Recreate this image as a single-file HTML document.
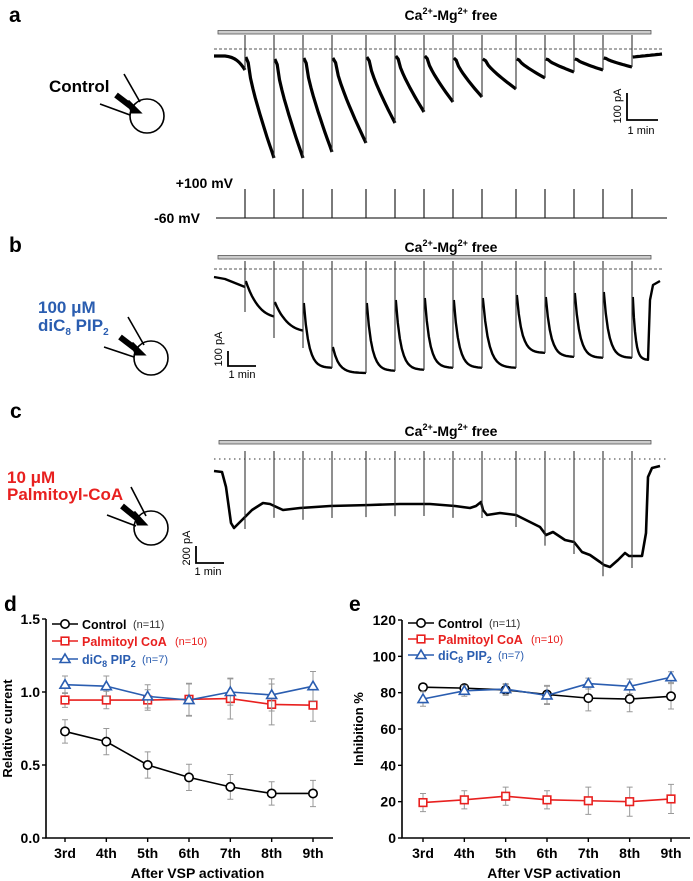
<!DOCTYPE html>
<html><head><meta charset="utf-8"><style>
html,body{margin:0;padding:0;background:#fff;}
svg{display:block;font-family:"Liberation Sans",Arial,sans-serif;}
</style></head><body>
<svg id="fig" width="693" height="881" viewBox="0 0 693 881" xmlns="http://www.w3.org/2000/svg">
<g id="static">
  <!-- panel a -->
  <text x="9" y="22" font-size="21" font-weight="bold">a</text>
  <text x="451" y="20" font-size="14" font-weight="bold" text-anchor="middle">Ca<tspan font-size="9" dy="-6">2+</tspan><tspan dy="6">-Mg</tspan><tspan font-size="9" dy="-6">2+</tspan><tspan dy="6"> free</tspan></text>
  <rect x="218" y="30.5" width="433" height="3.5" fill="#ccc" stroke="#555" stroke-width="0.8"/>
  <line x1="214" y1="49" x2="662" y2="49" stroke="#555" stroke-dasharray="3,2"/>
  <text x="49" y="92" font-size="17" font-weight="bold">Control</text>
  <g fill="none" stroke="#000" stroke-width="1.6">
    <circle cx="147" cy="116" r="17"/>
    <line x1="124" y1="74" x2="140" y2="102"/><line x1="100" y1="104" x2="130" y2="115"/>
    <path d="M116 95 L133 108" stroke-width="6"/><path d="M128 101 L139 112 L132 112 Z" fill="#000" stroke-width="3"/>
  </g>
  <g>
    <path d="M627 93 V120 H658" fill="none" stroke="#000" stroke-width="1.8"/>
    <text x="621" y="106" font-size="11" text-anchor="middle" transform="rotate(-90 621 106)">100 pA</text>
    <text x="641" y="134" font-size="11" text-anchor="middle">1 min</text>
  </g>
  <text x="233" y="188" font-size="14" font-weight="bold" text-anchor="end">+100 mV</text>
  <text x="200" y="223" font-size="14" font-weight="bold" text-anchor="end">-60 mV</text>
  <line x1="216" y1="218" x2="667" y2="218" stroke="#333" stroke-width="1.2"/>
  <!-- panel b -->
  <text x="9" y="252" font-size="21" font-weight="bold">b</text>
  <text x="451" y="252" font-size="14" font-weight="bold" text-anchor="middle">Ca<tspan font-size="9" dy="-6">2+</tspan><tspan dy="6">-Mg</tspan><tspan font-size="9" dy="-6">2+</tspan><tspan dy="6"> free</tspan></text>
  <rect x="218" y="255.5" width="433" height="3.5" fill="#ccc" stroke="#555" stroke-width="0.8"/>
  <line x1="214" y1="269" x2="662" y2="269" stroke="#555" stroke-dasharray="3,2"/>
  <text x="38" y="313" font-size="17" font-weight="bold" fill="#2a5db0">100 μM</text>
  <text x="38" y="331" font-size="17" font-weight="bold" fill="#2a5db0">diC<tspan font-size="10" dy="4">8</tspan><tspan dy="-4"> PIP</tspan><tspan font-size="10" dy="4">2</tspan></text>
  <g fill="none" stroke="#000" stroke-width="1.6">
    <circle cx="151" cy="358" r="17"/>
    <line x1="128" y1="317" x2="144" y2="345"/><line x1="104" y1="347" x2="134" y2="357"/>
    <path d="M120 337 L137 350" stroke-width="6"/><path d="M132 343 L143 354 L136 354 Z" fill="#000" stroke-width="3"/>
  </g>
  <g>
    <path d="M228 351 V366 H256" fill="none" stroke="#000" stroke-width="1.8"/>
    <text x="222" y="349" font-size="11" text-anchor="middle" transform="rotate(-90 222 349)">100 pA</text>
    <text x="242" y="378" font-size="11" text-anchor="middle">1 min</text>
  </g>
  <!-- panel c -->
  <text x="10" y="418" font-size="21" font-weight="bold">c</text>
  <text x="451" y="436" font-size="14" font-weight="bold" text-anchor="middle">Ca<tspan font-size="9" dy="-6">2+</tspan><tspan dy="6">-Mg</tspan><tspan font-size="9" dy="-6">2+</tspan><tspan dy="6"> free</tspan></text>
  <rect x="219" y="440.5" width="432" height="3.5" fill="#ccc" stroke="#555" stroke-width="0.8"/>
  <line x1="214" y1="459" x2="668" y2="459" stroke="#333" stroke-dasharray="1.5,3.5"/>
  <text x="7" y="483" font-size="17" font-weight="bold" fill="#e8201f">10 μM</text>
  <text x="7" y="500" font-size="17" font-weight="bold" fill="#e8201f">Palmitoyl-CoA</text>
  <g fill="none" stroke="#000" stroke-width="1.6">
    <circle cx="151" cy="528" r="17"/>
    <line x1="131" y1="487" x2="146" y2="516"/><line x1="107" y1="515" x2="136" y2="526"/>
    <path d="M122 506 L139 520" stroke-width="6"/><path d="M134 512 L145 524 L138 524 Z" fill="#000" stroke-width="3"/>
  </g>
  <g>
    <path d="M196 546 V563 H224" fill="none" stroke="#000" stroke-width="1.8"/>
    <text x="190" y="548" font-size="11" text-anchor="middle" transform="rotate(-90 190 548)">200 pA</text>
    <text x="208" y="575" font-size="11" text-anchor="middle">1 min</text>
  </g>
</g>
<g id="traces"></g>
<g id="chartD"></g>
<g id="chartE"></g>
</svg>
<script>
// ---- chart data ----
const categories = ["3rd","4th","5th","6th","7th","8th","9th"];
const dControl = [0.73,0.66,0.50,0.415,0.35,0.305,0.305];
const dControlErr = [0.08,0.09,0.09,0.09,0.085,0.08,0.09];
const dPalm = [0.945,0.945,0.945,0.95,0.955,0.915,0.91];
const dPalmErr = [0.05,0.06,0.07,0.11,0.14,0.14,0.11];
const dPip = [1.05,1.04,0.97,0.945,1.0,0.98,1.04];
const dPipErr = [0.06,0.07,0.08,0.11,0.09,0.11,0.1];
const dTicks = ["0.0","0.5","1.0","1.5"];
const eControl = [83,82.5,81.5,79,77,76.5,78];
const eControlErr = [2,2,3,5,7,7,7];
const ePalm = [19.5,21,23,21,20.5,20,21.5];
const ePalmErr = [5,5,5,5,7.5,8,8];
const ePip = [76.5,81,82,78.5,85,83.5,88.5];
const ePipErr = [4,3,3,5,3,4,3];
const eTicks = ["0","20","40","60","80","100","120"];
// ---- trace data (recording landmarks) ----
const pulseTimes = [245,274,303,332,366,395,424,453,482,516,545,574,603,632];
const aStart = [57,59,58,58,57,56,56,58,59,59,59,59,58,57];
const aMin = [158,158,152,143,123,112,102,97,89,78,72,70,67,62];
const bPeak = [281,302,303,347,303,300,298,300,298,295,297,293,292,297];
const bFloor = [338,348,368,373,371,370,368,368,368,353,357,358,358,360];
const cTraceX = [214,222,226,231,234,240,252,263,270,283,300,330,370,400,430,455,470,476,481,483,487,500,516,530,540,546,553,565,574,582,590,600,604,610,618,625,629,635,642,646,648,652,660];
const cTraceY = [471,472,487,523,528,522,510,503,504,510,508,506,505,504,504,506,508,506,502,510,515,513,515,522,527,535,532,540,542,552,555,562,565,567,560,553,556,556,556,533,477,468,466];

const NS="http://www.w3.org/2000/svg";
function mk(tag,attrs,parent){const e=document.createElementNS(NS,tag);for(const k in attrs)e.setAttribute(k,attrs[k]);parent.appendChild(e);return e;}

// ---- traces ----
const tr=document.getElementById('traces');
// panel a
let d="M214 56 L225 56 C235 57 240 62 245 70";
for(let i=0;i<pulseTimes.length;i++){
  const x0=pulseTimes[i], x1=(i<pulseTimes.length-1?pulseTimes[i+1]:662);
  const y0=aStart[i], y1=(i<pulseTimes.length-1?aMin[i]:aStart[i]-3);
  d+=` M${x0+0.8} ${y0}`;
  for(let k=1;k<=12;k++){const t=k/12;const f=i<13?(t<0.15?t*t*8:0.18+0.82*Math.pow((t-0.15)/0.85,0.85)):t;d+=` L${(x0+0.8+(x1-x0-0.8)*t).toFixed(1)} ${(y0+(y1-y0)*Math.min(f,1)).toFixed(1)}`;}
}
const pa=mk('path',{d:d,fill:'none',stroke:'#000','stroke-width':3.2,'stroke-linejoin':'round'},tr);


pulseTimes.forEach((x,i)=>{
  const l=mk('line',{x1:x,y1:35,x2:x,y2:(aMin[i-1]||70),stroke:'#333','stroke-width':1.1},tr);
  
  
  const p=mk('line',{x1:x,y1:189,x2:x,y2:218,stroke:'#222','stroke-width':1.2},tr);
  
  
});
// panel b
let db="M214 277 L225 279 L235 283 L245 287";
for(let i=0;i<pulseTimes.length;i++){
  const x0=pulseTimes[i], x1=(i<pulseTimes.length-1?pulseTimes[i+1]:648);
  const p=bPeak[i], f=bFloor[i];
  const tau=i<2?0.6:0.18;
  db+=` M${x0+0.8} ${p}`;
  for(let k=1;k<=14;k++){const t=k/14;const y=f+(p-f)*Math.exp(-t/tau)-(i<2?(f-p)*Math.exp(-1/tau)*t:0);db+=` L${(x0+0.8+(x1-x0-0.8)*t).toFixed(1)} ${y.toFixed(1)}`;}
}
db+=" L650 300 L653 285 L660 281";
const pb=mk('path',{d:db,fill:'none',stroke:'#000','stroke-width':2.4,'stroke-linejoin':'round'},tr);


pulseTimes.forEach((x,i)=>{
  const l=mk('line',{x1:x,y1:261,x2:x,y2:(i===0?312:(bFloor[i-1])),stroke:'#333','stroke-width':1.1},tr);
  
  
});
// panel c
let dc="M"+cTraceX.map((x,i)=>x+" "+cTraceY[i]).join(" L");
const pc=mk('path',{d:dc,fill:'none',stroke:'#000','stroke-width':2.6,'stroke-linejoin':'round'},tr);


function cAt(x){for(let i=1;i<cTraceX.length;i++){if(cTraceX[i]>=x){const t=(x-cTraceX[i-1])/(cTraceX[i]-cTraceX[i-1]);return cTraceY[i-1]+t*(cTraceY[i]-cTraceY[i-1]);}}return cTraceY[cTraceY.length-1];}
pulseTimes.forEach(x=>{
  const l=mk('line',{x1:x,y1:451,x2:x,y2:cAt(x)+12,stroke:'#333','stroke-width':1.1},tr);
  
  
});

// ---- summary charts ----
function drawChart(gid,cfg){
  const g=document.getElementById(gid);
  const {x0,x1,yTop,yBot,yMax,ticks,cx0,cx1}=cfg;
  const ys=v=>yBot-(v/yMax)*(yBot-yTop);
  const xs=i=>cx0+i*(cx1-cx0)/(categories.length-1);
  const ax=mk('path',{d:`M${x0} ${yTop} V${yBot} H${x1}`,fill:'none',stroke:'#000','stroke-width':1.6},g);
  
  
  ticks.forEach(t=>{const y=ys(parseFloat(t));
    mk('line',{x1:x0-4,y1:y,x2:x0,y2:y,stroke:'#000','stroke-width':1.4},g);
    const tx=mk('text',{x:x0-6,y:y+5,'font-size':14,'font-weight':'bold','text-anchor':'end'},g);tx.textContent=t;
    
    
  });
  categories.forEach((c,i)=>{const x=xs(i);
    mk('line',{x1:x,y1:yBot,x2:x,y2:yBot+4,stroke:'#000','stroke-width':1.4},g);
    const tx=mk('text',{x:x,y:yBot+20,'font-size':14,'font-weight':'bold','text-anchor':'middle'},g);tx.textContent=c;
    
    
  });
  const xl=mk('text',{x:(x0+x1)/2+8,y:yBot+40,'font-size':14,'font-weight':'bold','text-anchor':'middle'},g);xl.textContent="After VSP activation";
  
  
  const yl=mk('text',{x:cfg.ylx,y:(yTop+yBot)/2,'font-size':13,'font-weight':'bold','text-anchor':'middle',transform:`rotate(-90 ${cfg.ylx} ${(yTop+yBot)/2})`},g);yl.textContent=cfg.ylabel;
  
  
  cfg.series.forEach(s=>{
    const sg=mk('g',{},g);
    
    
    s.vals.forEach((v,i)=>{const x=xs(i);
      mk('path',{d:`M${x} ${ys(v-s.err[i])} V${ys(v+s.err[i])} M${x-3} ${ys(v-s.err[i])} H${x+3} M${x-3} ${ys(v+s.err[i])} H${x+3}`,stroke:'#999','stroke-width':1,fill:'none'},sg);
    });
    mk('polyline',{points:s.vals.map((v,i)=>xs(i)+","+ys(v)).join(" "),fill:'none',stroke:s.color,'stroke-width':1.6},sg);
    s.vals.forEach((v,i)=>{const m=marker(sg,s.shape,xs(i),ys(v),s.color);
      
      });
  });
  cfg.legend.forEach((L,i)=>{
    const y=cfg.ly[i];
    const lg=mk('g',{},g);
    
    
    mk('line',{x1:cfg.lx,y1:y,x2:cfg.lx+26,y2:y,stroke:L.color,'stroke-width':1.4},lg);
    marker(lg,L.shape,cfg.lx+13,y,L.color);
    const t=mk('text',{x:cfg.lx+30,y:y+5,'font-size':12.5,'font-weight':'bold',fill:L.tcolor},lg);t.innerHTML=L.label;
    const n=mk('text',{x:cfg.nx[i],y:y+4,'font-size':11,fill:L.ncolor},lg);n.textContent=L.n;
  });
}
function marker(p,shape,x,y,c){
  if(shape==='circle')return mk('circle',{cx:x,cy:y,r:4.2,fill:'#fff',stroke:c,'stroke-width':1.6},p);
  if(shape==='square')return mk('rect',{x:x-3.8,y:y-3.8,width:7.6,height:7.6,fill:'#fff',stroke:c,'stroke-width':1.6},p);
  return mk('path',{d:`M${x} ${y-5} L${x+5} ${y+3.5} L${x-5} ${y+3.5} Z`,fill:'#fff',stroke:c,'stroke-width':1.6},p);
}
const legendDef=[
 {shape:'circle',color:'#000',tcolor:'#000',ncolor:'#333',label:'Control',n:'(n=11)'},
 {shape:'square',color:'#e8201f',tcolor:'#e8201f',ncolor:'#e8201f',label:'Palmitoyl CoA',n:'(n=10)'},
 {shape:'tri',color:'#2a5db0',tcolor:'#2a5db0',ncolor:'#2a5db0',label:'diC<tspan font-size="9" dy="3">8</tspan><tspan dy="-3"> PIP</tspan><tspan font-size="9" dy="3">2</tspan>',n:'(n=7)'}
];
drawChart('chartD',{x0:46,x1:333,yTop:619,yBot:838,yMax:1.5,ticks:dTicks,cx0:65,cx1:313,ylabel:'Relative current',ylx:12,
 series:[{name:'series-palmitoyl',vals:dPalm,err:dPalmErr,color:'#e8201f',shape:'square'},{name:'series-pip2',vals:dPip,err:dPipErr,color:'#2a5db0',shape:'tri'},{name:'series-control',vals:dControl,err:dControlErr,color:'#000',shape:'circle'}],
 legend:legendDef,lx:52,ly:[624,641,659],nx:[133,175,142]});
drawChart('chartE',{x0:402,x1:690,yTop:620,yBot:838,yMax:120,ticks:eTicks,cx0:423,cx1:671,ylabel:'Inhibition %',ylx:363,
 series:[{name:'series-palmitoyl',vals:ePalm,err:ePalmErr,color:'#e8201f',shape:'square'},{name:'series-control',vals:eControl,err:eControlErr,color:'#000',shape:'circle'},{name:'series-pip2',vals:ePip,err:ePipErr,color:'#2a5db0',shape:'tri'}],
 legend:legendDef,lx:408,ly:[623,639,655],nx:[489,531,498]});
const dl=mk('text',{x:4,y:611,'font-size':21,'font-weight':'bold'},document.getElementById('chartD'));dl.textContent='d';


const el=mk('text',{x:349,y:611,'font-size':21,'font-weight':'bold'},document.getElementById('chartE'));el.textContent='e';


</script>
</body></html>
